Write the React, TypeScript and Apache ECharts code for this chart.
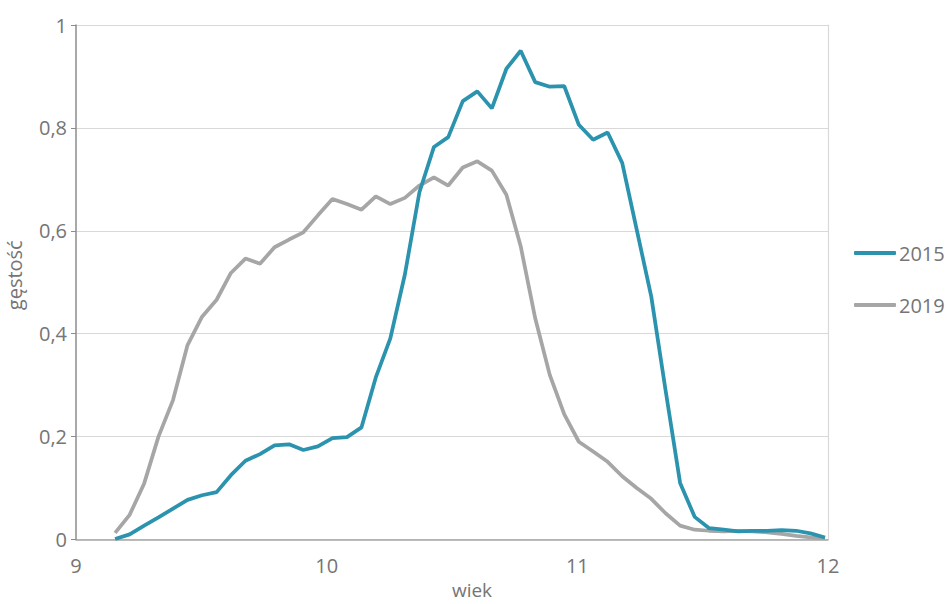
import React, { useEffect, useRef } from "react";
import * as echarts from "echarts";

const ages = [
  9.156, 9.214, 9.272, 9.329, 9.387, 9.445, 9.503, 9.561, 9.618, 9.676,
  9.734, 9.792, 9.85, 9.907, 9.965, 10.023, 10.081, 10.139, 10.196, 10.254,
  10.312, 10.37, 10.428, 10.485, 10.543, 10.601, 10.659, 10.717, 10.774, 10.832,
  10.89, 10.948, 11.006, 11.063, 11.121, 11.179, 11.237, 11.295, 11.352, 11.41,
  11.468, 11.526, 11.584, 11.641, 11.699, 11.757, 11.815, 11.873, 11.93, 11.988,
];

const density2015 = [
  0.001, 0.01, 0.027, 0.043, 0.06, 0.077, 0.086, 0.092, 0.125, 0.153,
  0.166, 0.183, 0.185, 0.174, 0.181, 0.197, 0.199, 0.218, 0.315, 0.391,
  0.515, 0.675, 0.763, 0.782, 0.852, 0.871, 0.838, 0.915, 0.95, 0.889,
  0.88, 0.881, 0.806, 0.777, 0.791, 0.732, 0.602, 0.472, 0.29, 0.11,
  0.044, 0.022, 0.019, 0.016, 0.017, 0.017, 0.018, 0.017, 0.012, 0.004,
];

const density2019 = [
  0.013, 0.048, 0.109, 0.2, 0.271, 0.378, 0.433, 0.466, 0.518, 0.546,
  0.536, 0.568, 0.583, 0.597, 0.63, 0.662, 0.652, 0.641, 0.667, 0.652,
  0.664, 0.688, 0.704, 0.688, 0.723, 0.735, 0.717, 0.67, 0.57, 0.43,
  0.32, 0.243, 0.19, 0.171, 0.151, 0.123, 0.1, 0.079, 0.051, 0.027,
  0.019, 0.017, 0.016, 0.017, 0.016, 0.014, 0.011, 0.007, 0.004, 0.002,
];

const seriesNames = ["2015", "2019"];
const xTicks = [9, 10, 11, 12];

const FONT = "'Open Sans', 'Noto Sans', sans-serif";
const TEXT = "#757575";

export default function App() {
  const ref = useRef<HTMLDivElement>(null);
  useEffect(() => {
    if (!ref.current) return;
    const chart = echarts.init(ref.current, undefined, { renderer: "svg" });
    const pair = (vals: number[]) => ages.map((a, i) => [a, vals[i]]);
    chart.setOption({
      animation: false,
      backgroundColor: "#ffffff",
      textStyle: { fontFamily: FONT },
      grid: { left: 76, right: 119, top: 25, bottom: 64.5, outerBoundsMode: "none", containLabel: false },
      legend: {
        orient: "vertical",
        left: 854,
        top: 243,
        padding: 0,
        itemWidth: 42,
        itemHeight: 4,
        itemGap: 32,
        icon: "roundRect",
        textStyle: { color: TEXT, fontSize: 20, fontFamily: FONT, padding: [0, 0, 0, -2] },
        data: seriesNames,
      },
      xAxis: {
        type: "value",
        min: xTicks[0],
        max: xTicks[xTicks.length - 1],
        interval: 1,
        name: "wiek",
        nameLocation: "middle",
        nameGap: 40,
        nameTextStyle: {
          color: TEXT,
          fontSize: 19,
          lineHeight: 19,
          fontFamily: FONT,
          padding: [0, 0, 0, 40],
        },
        axisLine: { show: true, onZero: false, lineStyle: { color: "#a6a6a6", width: 1.5 } },
        axisTick: { show: false },
        axisLabel: { color: TEXT, fontSize: 20, fontFamily: FONT, margin: 16 },
        splitLine: { show: false },
      },
      yAxis: [
        {
          type: "value",
          min: 0,
          max: 1,
          interval: 0.2,
          name: "gęstość",
          nameLocation: "middle",
          nameGap: 52,
          nameRotate: 90,
          nameTextStyle: { color: TEXT, fontSize: 20, fontFamily: FONT, padding: [0, 0, 0, 14] },
          axisLine: { show: true, lineStyle: { color: "#8c8c8c", width: 1.5 } },
          axisTick: { show: true, length: 5, lineStyle: { color: "#8c8c8c" } },
          axisLabel: {
            color: TEXT,
            fontSize: 20,
            fontFamily: FONT,
            margin: 9,
            formatter: (v: number) => String(Math.round(v * 10) / 10).replace(".", ","),
          },
          splitLine: { show: true, lineStyle: { color: "#d9d9d9", width: 1.2 } },
        },
        {
          type: "value",
          min: 0,
          max: 1,
          interval: 0.2,
          position: "right",
          axisLine: { show: true, lineStyle: { color: "#d9d9d9", width: 1.2 } },
          axisTick: { show: false },
          axisLabel: { show: false },
          splitLine: { show: false },
        },
      ],
      series: [
        {
          name: seriesNames[0],
          type: "line",
          data: pair(density2015),
          showSymbol: false,
          symbol: "none",
          lineStyle: { color: "#2b93ad", width: 3.75 },
          itemStyle: { color: "#2b93ad" },
          z: 3,
        },
        {
          name: seriesNames[1],
          type: "line",
          data: pair(density2019),
          showSymbol: false,
          symbol: "none",
          lineStyle: { color: "#a6a6a6", width: 3.75 },
          itemStyle: { color: "#a6a6a6" },
          z: 2,
        },
      ],
    });
    return () => chart.dispose();
  }, []);
  return <div ref={ref} style={{ width: 947, height: 604, position: "absolute", left: 0, top: 0 }} />;
}
